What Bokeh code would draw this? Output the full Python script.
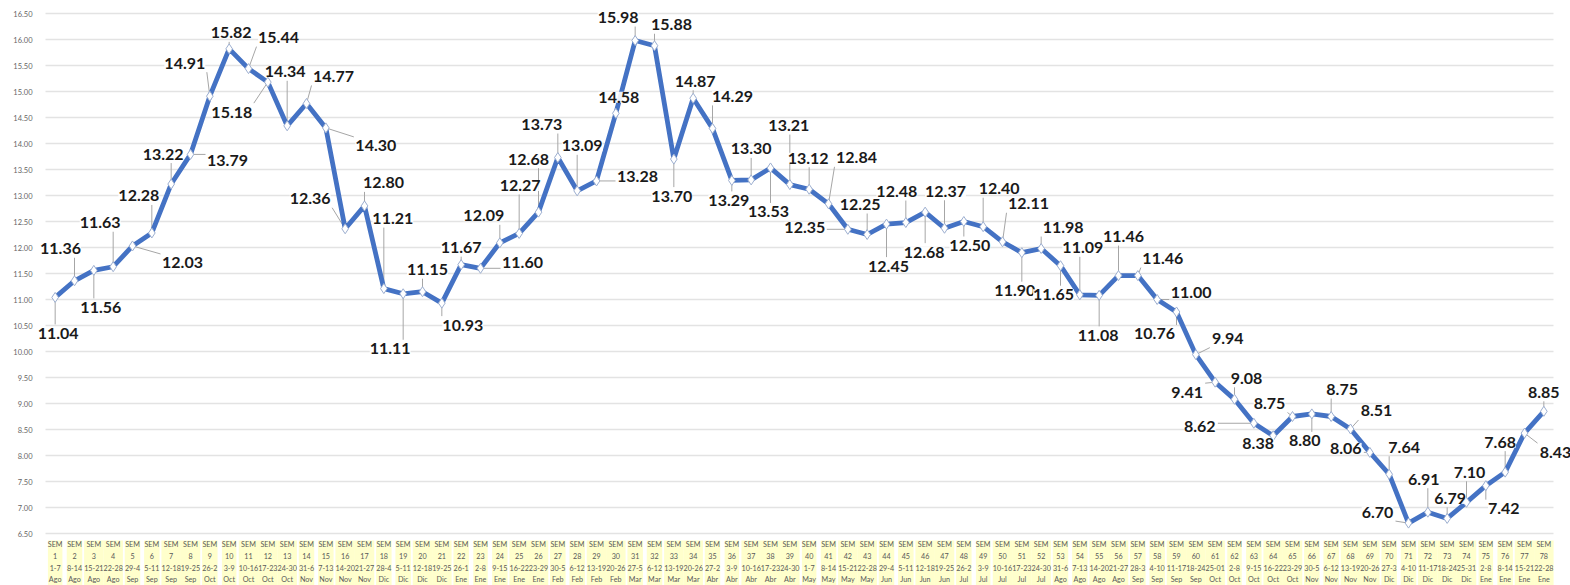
from bokeh.plotting import figure
from bokeh.models import ColumnDataSource, LabelSet, Range1d, FixedTicker
from bokeh.core.properties import value
from bokeh.embed import file_html
from bokeh.resources import INLINE

weeks = list(range(1, 79))
date_ranges = ["1-7", "8-14", "15-21", "22-28", "29-4", "5-11", "12-18", "19-25", "26-2", "3-9",
               "10-16", "17-23", "24-30", "31-6", "7-13", "14-20", "21-27", "28-4", "5-11", "12-18",
               "19-25", "26-1", "2-8", "9-15", "16-22", "23-29", "30-5", "6-12", "13-19", "20-26",
               "27-5", "6-12", "13-19", "20-26", "27-2", "3-9", "10-16", "17-23", "24-30", "1-7",
               "8-14", "15-21", "22-28", "29-4", "5-11", "12-18", "19-25", "26-2", "3-9", "10-16",
               "17-23", "24-30", "31-6", "7-13", "14-20", "21-27", "28-3", "4-10", "11-17", "18-24",
               "25-01", "2-8", "9-15", "16-22", "23-29", "30-5", "6-12", "13-19", "20-26", "27-3",
               "4-10", "11-17", "18-24", "25-31", "2-8", "8-14", "15-21", "22-28"]
months = ["Ago"] * 4 + ["Sep"] * 4 + ["Oct"] * 5 + ["Nov"] * 4 + ["Dic"] * 4 + ["Ene"] * 5 + \
         ["Feb"] * 4 + ["Mar"] * 4 + ["Abr"] * 5 + ["May"] * 4 + ["Jun"] * 4 + ["Jul"] * 5 + \
         ["Ago"] * 4 + ["Sep"] * 4 + ["Oct"] * 5 + ["Nov"] * 4 + ["Dic"] * 5 + ["Ene"] * 4
values = [11.04, 11.36, 11.56, 11.63, 12.03, 12.28, 13.22, 13.79, 14.91, 15.82,
          15.44, 15.18, 14.34, 14.77, 14.30, 12.36, 12.80, 11.21, 11.11, 11.15,
          10.93, 11.67, 11.60, 12.09, 12.27, 12.68, 13.73, 13.09, 13.28, 14.58,
          15.98, 15.88, 13.70, 14.87, 14.29, 13.29, 13.30, 13.53, 13.21, 13.12,
          12.84, 12.35, 12.25, 12.45, 12.48, 12.68, 12.37, 12.50, 12.40, 12.11,
          11.90, 11.98, 11.65, 11.09, 11.08, 11.46, 11.46, 11.00, 10.76, 9.94,
          9.41, 9.08, 8.62, 8.38, 8.75, 8.80, 8.75, 8.51, 8.06, 7.64,
          6.70, 6.91, 6.79, 7.10, 7.42, 7.68, 8.43, 8.85]
y_ticks = [6.5 + 0.5 * i for i in range(21)]

# label placement (screen px offsets from the point; dy positive = down)
label_dx = [3, -14, 7, -13, 50, -13, -8, 37, -25, 2, 30, -36, -2, 27, 50, -35, 19, 9, -13, 5,
            21, 0, 42, -16, 1, -10, -16, 5, 41, 3, -17, 17, -2, 2, 20, -3, 0, -2, -1, -1,
            28, -43, -7, 2, -9, -1, 1, 6, 16, 26, -7, 22, -7, 3, -1, 5, 25, 34, -22, 32,
            -28, 12, -54, -15, -23, -7, 11, 26, -24, 15, -31, -4, 3, 3, 18, -5, 31, 0]
label_dy = [36, -32, 37, -44, 17, -37, -30, 6, -33, -16, -31, 30, -54, -27, 18, -30, -23, -70, 55, -22,
            22, -17, -6, -27, -48, -53, -33, -45, -4, -16, -23, -21, 37, -17, -32, 20, -31, 44, -59, -31,
            -46, -2, -30, 42, -31, 40, -37, 24, -38, -38, 38, -21, 29, -47, 40, -39, -17, -7, 22, -16,
            10, -21, 3, 8, -13, 27, -27, -18, -4, -27, -11, -33, -20, -30, 23, -30, 19, -19]

# ---- layout (screen px) ----
PX_X = 1508 / 78.0          # px per week
PX_Y = 52.0                 # px per unit of value
LEFT, GRID_L, GRID_R, RIGHT = 34, 45, 1553, 1570
TOP, GRID_T, GRID_B, BOTTOM = 3, 13, 533, 585
lo, hi = y_ticks[0], y_ticks[-1]
X0 = 0.5 - (GRID_L - LEFT) / PX_X
X1 = len(weeks) + 0.5 + (RIGHT - GRID_R) / PX_X
Y1 = hi + (GRID_T - TOP) / PX_Y
Y0 = lo - (BOTTOM - GRID_B) / PX_Y

p = figure(frame_width=RIGHT - LEFT, frame_height=BOTTOM - TOP, output_backend="svg",
           toolbar_location=None, x_range=Range1d(X0, X1), y_range=Range1d(Y0, Y1),
           min_border_left=LEFT, min_border_right=0, min_border_top=TOP, min_border_bottom=0)
p.outline_line_color = None
p.background_fill_color = "white"
p.xaxis.visible = False
p.xgrid.grid_line_color = None
p.ygrid.grid_line_color = None

p.yaxis.ticker = FixedTicker(ticks=y_ticks)
p.yaxis.major_label_overrides = {t: f"{t:.2f}" for t in y_ticks}
p.yaxis.major_label_text_font = "Lato"
p.yaxis.major_label_text_font_size = "7.5px"
p.yaxis.major_label_text_color = "#666666"
p.yaxis.axis_line_color = None
p.yaxis.major_tick_line_color = None
p.yaxis.minor_tick_line_color = None
p.yaxis.major_label_standoff = -4

# horizontal gridlines spanning the category area
p.segment(x0=[0.5] * len(y_ticks), y0=y_ticks, x1=[len(weeks) + 0.5] * len(y_ticks), y1=y_ticks,
          line_color="#e3e3e3", line_width=1.5)

# category label cells (yellow) under the plot
def text_w(s):
    w = 0
    for ch in s:
        w += 2.3 if ch == "-" else 4.0
    return w

cell_w = [max(13.3, text_w(d)) + 1.2 for d in date_ranges]
cell_y = lo - (7 + 24) / PX_Y
cat_src = ColumnDataSource(dict(x=weeks, w=cell_w, y=[cell_y] * len(weeks),
                                ty=[lo - 6.5 / PX_Y] * len(weeks),
                                lbl=[f"SEM\n{w}\n{d}\n{m}" for w, d, m in zip(weeks, date_ranges, months)]))
p.rect(x="x", y="y", width="w", height=48, width_units="screen", height_units="screen",
       source=cat_src, fill_color="#FFFFCC", line_color=None)
p.text(x="x", y="ty", text="lbl", source=cat_src, text_align="center", text_baseline="top",
       text_font=value("Lato"), text_font_size="7.2px", text_color="#595959", text_line_height=1.31)

texts = [f"{v:.2f}" for v in values]

# leader lines
lx0, ly0, lx1, ly1 = [], [], [], []
for w, v, t, dx, dy in zip(weeks, values, texts, label_dx, label_dy):
    hw = len(t) * 8.0 / 2 + 2
    hh = 9
    if abs(dx) < hw + 5 and abs(dy) < hh + 5:
        continue
    bx = min(max(0, dx - hw), dx + hw)
    by = min(max(0, dy - hh), dy + hh)
    lx0.append(w)
    ly0.append(v)
    lx1.append(w + bx / PX_X)
    ly1.append(v - by / PX_Y)
p.segment(lx0, ly0, lx1, ly1, line_color="#a6a6a6", line_width=1)

src = ColumnDataSource(dict(x=weeks, y=values, t=texts,
                            xo=label_dx, yo=[-d for d in label_dy]))
p.line("x", "y", source=src, line_color="#4472C4", line_width=4.8, line_join="round")
p.scatter("x", "y", source=src, marker="diamond", size=10, fill_color="white",
          line_color="#9dafd0", line_width=1)

labels = LabelSet(x="x", y="y", text="t", source=src, x_offset="xo", y_offset="yo",
                  text_align="center", text_baseline="middle",
                  text_font=value("Lato"), text_font_style="bold", text_font_size="16px",
                  text_color="#1a1a1a", background_fill_color="white", background_fill_alpha=0.9)
p.add_layout(labels)

open("out.html", "w").write(file_html(p, INLINE))
